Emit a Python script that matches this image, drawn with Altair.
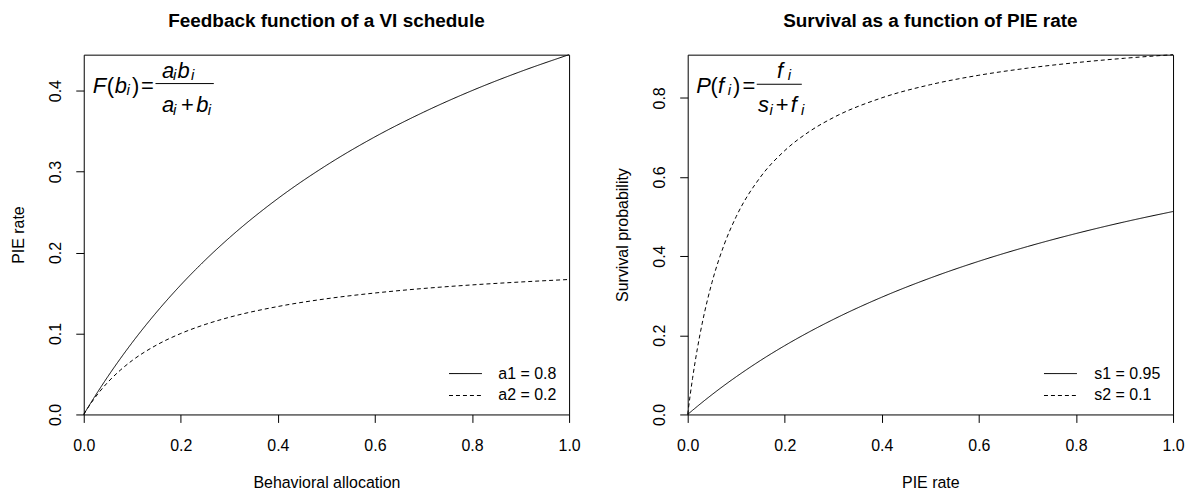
import altair as alt
import pandas as pd

FONT = "Liberation Sans"

# ---- data ----
x_grid = [0, 0.005, 0.01, 0.02, 0.03, 0.05, 0.075, 0.1, 0.15, 0.2, 0.25, 0.3,
          0.4, 0.5, 0.6, 0.7, 0.8, 0.9, 1.0]
feedback_a1 = [0, 0.005, 0.0099, 0.0195, 0.0289, 0.0471, 0.0686, 0.0889, 0.1263, 0.16,
               0.1905, 0.2182, 0.2667, 0.3077, 0.3429, 0.3733, 0.4, 0.4235, 0.4444]
feedback_a2 = [0, 0.0049, 0.0095, 0.0182, 0.0261, 0.04, 0.0545, 0.0667, 0.0857, 0.1,
               0.1111, 0.12, 0.1333, 0.1429, 0.15, 0.1556, 0.16, 0.1636, 0.1667]
survival_s1 = [0, 0.0052, 0.0104, 0.0206, 0.0306, 0.05, 0.0732, 0.0952, 0.1364, 0.1739,
               0.2083, 0.24, 0.2963, 0.3448, 0.3871, 0.4242, 0.4571, 0.4865, 0.5128]
survival_s2 = [0, 0.0476, 0.0909, 0.1667, 0.2308, 0.3333, 0.4286, 0.5, 0.6, 0.6667,
               0.7143, 0.75, 0.8, 0.8333, 0.8571, 0.875, 0.8889, 0.9, 0.9091]

feedback_labels = ["a1 = 0.8", "a2 = 0.2"]
survival_labels = ["s1 = 0.95", "s2 = 0.1"]
x_ticks = [0, 0.2, 0.4, 0.6, 0.8, 1.0]
feedback_yticks = [0, 0.1, 0.2, 0.3, 0.4]
survival_yticks = [0, 0.2, 0.4, 0.6, 0.8]

W, H = 487, 361

# formula pieces: (text, x, y, fontsize, italic) in plot pixels
feedback_formula = [
    ("F", 9, 38, 22, True), ("(", 23, 38, 22, False), ("b", 31, 38, 22, True),
    ("i", 43, 40.5, 15, True), (")", 48.5, 38, 22, False), ("=", 57.5, 38, 22, False),
    ("a", 78.5, 23, 22, True), ("i", 89.5, 25.3, 15, True), ("b", 94, 23, 22, True),
    ("i", 107.5, 25.3, 15, True),
    ("a", 78.5, 58, 22, True), ("i", 89.5, 60.3, 15, True), ("+", 97.5, 58, 22, False),
    ("b", 113, 58, 22, True), ("i", 124.5, 60.3, 15, True),
]
feedback_bar = (72, 130.5, 29)
survival_formula = [
    ("P", 8.5, 38, 22, True), ("(", 23, 38, 22, False), ("f", 30.5, 38, 22, True),
    ("i", 40.3, 40.5, 15, True), (")", 45.5, 38, 22, False), ("=", 55, 38, 22, False),
    ("f", 89.5, 23, 22, True), ("i", 100.3, 25.3, 15, True),
    ("s", 70.5, 58, 22, True), ("i", 82, 60.3, 15, True), ("+", 88.3, 58, 22, False),
    ("f", 103.5, 58, 22, True), ("i", 113.7, 60.3, 15, True),
]
survival_bar = (69.3, 114.5, 29.7)


def formula_layers(pieces, bar):
    df = pd.DataFrame(pieces, columns=["t", "px", "py", "fs", "it"])
    layers = []
    for flag, style in ((True, "italic"), (False, "normal")):
        sub = df[df["it"] == flag]
        layers.append(
            alt.Chart(sub).mark_text(font=FONT, fontStyle=style, align="left",
                                     baseline="alphabetic", color="black").encode(
                x=alt.X("px:Q", scale=None, axis=None),
                y=alt.Y("py:Q", scale=None, axis=None),
                size=alt.Size("fs:Q", scale=None, legend=None),
                text="t:N",
            )
        )
    layers.append(
        alt.Chart(pd.DataFrame({"k": [0]})).mark_rule(color="black", strokeWidth=1).encode(
            x=alt.value(bar[0]), x2=alt.value(bar[1]), y=alt.value(bar[2])
        )
    )
    return layers


def panel(ya, yb, labels, yticks, title, xtitle, ytitle, pieces, bar, legx, laboff):
    n = len(x_grid)
    df = pd.DataFrame({
        "x": x_grid + x_grid,
        "y": ya + yb,
        "series": [labels[0]] * n + [labels[1]] * n,
        "order": list(range(n)) + list(range(n)),
    })
    ymax = max(ya + yb)
    lines = alt.Chart(df).mark_line(color="black", strokeWidth=1, interpolate="monotone").encode(
        x=alt.X("x:Q", scale=alt.Scale(domain=[0, 1], nice=False, zero=False),
                axis=alt.Axis(values=x_ticks, format=".1f", title=xtitle,
                              titleY=73, titleBaseline="alphabetic")),
        y=alt.Y("y:Q", scale=alt.Scale(domain=[0, ymax], nice=False),
                axis=alt.Axis(values=yticks, format=".1f", title=ytitle,
                              labelAngle=270, labelAlign="center", labelBaseline="alphabetic",
                              titleX=-60, titleY=H / 2, titleBaseline="alphabetic",
                              titleAngle=270, titleAlign="center")),
        strokeDash=alt.StrokeDash(
            "series:N",
            scale=alt.Scale(domain=labels, range=[[1, 0], [4, 3]]),
            legend=alt.Legend(title=None, orient="none", legendX=legx, legendY=312,
                              symbolType="stroke", symbolSize=1089, symbolStrokeColor="black",
                              symbolStrokeWidth=1, labelOffset=laboff, clipHeight=16,
                              rowPadding=6, padding=0, labelFont=FONT, labelFontSize=16,
                              labelColor="black"),
        ),
        order="order:Q",
    )
    return alt.layer(lines, *formula_layers(pieces, bar)).properties(
        width=W, height=H,
        title=alt.TitleParams(text=title, font=FONT, fontSize=19, fontWeight="bold",
                              baseline="alphabetic", offset=7, anchor="middle", color="black"),
    )


left = panel(feedback_a1, feedback_a2, feedback_labels, feedback_yticks,
             "Feedback function of a VI schedule", "Behavioral allocation", "PIE rate",
             feedback_formula, feedback_bar, 366, 16)
right = panel(survival_s1, survival_s2, survival_labels, survival_yticks,
              "Survival as a function of PIE rate", "PIE rate", "Survival probability",
              survival_formula, survival_bar, 357, 17)

chart = alt.hconcat(left, right, spacing=119, bounds="flush").resolve_scale(
    strokeDash="independent", x="independent", y="independent"
).resolve_legend(strokeDash="independent").properties(
    padding={"left": 2, "top": 2, "right": 0, "bottom": 0}
).configure_view(
    stroke="black", strokeWidth=1
).configure_axis(
    grid=False, domain=False, tickColor="black", tickWidth=1, tickSize=8,
    labelFont=FONT, labelFontSize=16, labelColor="black", labelPadding=15,
    labelFlush=False, labelOverlap=False,
    titleFont=FONT, titleFontSize=16, titleFontWeight="normal", titleColor="black",
).configure_axisX(labelBaseline="top")

chart.save("out.html", embed_options={"renderer": "svg", "actions": False})
